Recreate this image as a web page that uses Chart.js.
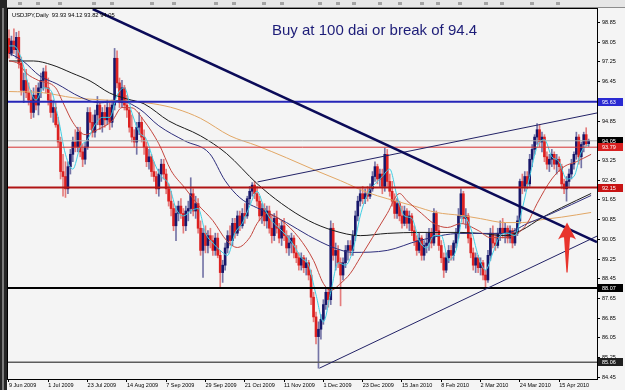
<!DOCTYPE html>
<html>
<head>
<meta charset="utf-8">
<script src="https://cdn.jsdelivr.net/npm/chart.js@4.4.0/dist/chart.umd.min.js"></script>
<style>
  html, body { margin: 0; padding: 0; background: #f4f4f4; }
  canvas { display: block; }
</style>
</head>
<body>
<canvas id="chart" width="625" height="390"></canvas>
<script>
// USDJPY daily candles (bar 0 = 9 Jun 2009)
const opens = [
  98.20, 97.60, 98.10, 97.75, 98.25, 97.20, 96.10, 96.50, 96.00, 95.70,
  95.20, 95.90, 95.50, 96.20, 96.50, 96.85, 96.20, 95.70, 95.20, 95.40,
  94.70, 94.00, 92.80, 92.60, 92.10, 93.00, 93.50, 94.00, 93.80, 94.40,
  93.60, 93.30, 93.80, 95.20, 94.80, 94.40, 95.10, 95.50, 94.70, 95.20,
  94.90, 95.40, 94.80, 95.50, 97.40, 96.40, 95.60, 96.20, 95.50, 95.30,
  94.60, 94.20, 94.00, 94.60, 94.80, 94.20, 93.80, 93.20, 93.40, 92.80,
  92.60, 92.10, 92.70, 93.10, 92.70, 92.10, 91.60, 91.30, 90.60, 91.10,
  91.40, 91.10, 90.60, 91.20, 91.30, 91.90, 91.20, 91.50, 90.50, 89.60,
  90.30, 89.80, 90.20, 90.00, 89.60, 90.10, 89.40, 88.70, 89.00, 89.70,
  90.20, 90.00, 90.70, 90.30, 91.00, 90.60, 91.10, 91.00, 91.70, 92.00,
  92.25, 91.90, 91.60, 91.00, 91.30, 90.80, 91.20, 90.50, 90.20, 90.90,
  90.50, 90.10, 90.60, 90.20, 89.70, 89.90, 90.10, 89.50, 89.30, 89.00,
  89.30, 88.90, 89.10, 88.60, 87.70, 86.90, 86.10, 86.40, 86.80, 87.40,
  87.90, 87.60, 90.50, 89.40, 89.60, 89.10, 88.60, 89.10, 89.60, 89.80,
  89.60, 90.20, 91.00, 91.60, 91.90, 91.70, 91.90, 91.80, 92.10, 92.60,
  93.00, 92.50, 92.70, 92.20, 93.50, 92.40, 92.00, 91.60, 91.10, 91.50,
  91.00, 90.70, 91.20, 90.70, 91.00, 90.40, 90.00, 89.60, 90.10, 89.40,
  89.80, 89.90, 90.30, 89.90, 91.10, 90.40, 89.80, 89.30, 88.80, 89.30,
  89.60, 89.40, 89.90, 90.30, 91.00, 91.90, 90.90, 91.00, 90.10, 89.50,
  89.00, 89.30, 88.90, 89.10, 88.60, 88.40, 89.40, 90.30, 89.90, 89.80,
  90.30, 90.50, 90.30, 90.50, 90.10, 90.40, 89.90, 90.30, 90.80, 92.40,
  92.20, 92.60, 92.30, 93.30, 93.70, 94.20, 94.50, 94.00, 94.20, 93.40,
  93.10, 93.30, 93.50, 93.10, 93.30, 93.00, 92.30, 92.10, 92.40, 92.70,
  93.10, 93.50, 94.20, 93.40, 93.90, 94.30, 93.93
];
const highs = [
  98.55, 98.30, 98.60, 98.45, 98.50, 97.45, 96.80, 96.95, 96.40, 96.10,
  96.20, 96.30, 96.40, 96.80, 97.00, 97.10, 96.60, 96.00, 95.70, 95.60,
  95.00, 94.20, 93.50, 93.20, 93.20, 93.70, 94.20, 94.50, 94.60, 94.60,
  93.90, 94.00, 95.40, 95.40, 95.10, 95.30, 95.85, 95.60, 95.40, 95.50,
  95.70, 95.60, 95.70, 97.80, 97.70, 96.60, 96.50, 96.30, 95.90, 95.40,
  95.10, 94.50, 94.80, 95.20, 95.00, 94.50, 94.00, 93.70, 93.50, 93.20,
  92.80, 92.90, 93.30, 93.30, 92.90, 92.30, 92.00, 91.50, 91.40, 91.60,
  91.70, 91.30, 91.40, 91.60, 92.55, 92.10, 91.80, 91.70, 90.80, 90.50,
  90.60, 90.40, 90.50, 90.20, 90.30, 90.30, 89.60, 89.20, 89.90, 90.40,
  90.60, 90.90, 90.90, 91.20, 91.20, 91.30, 91.50, 91.80, 92.20, 92.35,
  92.40, 92.20, 91.80, 91.50, 91.50, 91.40, 91.40, 91.00, 91.10, 91.20,
  90.70, 90.80, 90.90, 90.40, 90.20, 90.30, 90.20, 89.80, 89.50, 89.50,
  89.40, 89.30, 89.20, 88.80, 87.90, 87.10, 86.70, 87.00, 87.60, 88.10,
  88.10, 90.80, 90.70, 89.90, 89.80, 89.30, 89.30, 89.80, 90.00, 90.00,
  90.40, 91.20, 91.80, 92.10, 92.20, 92.10, 92.20, 92.30, 92.80, 93.20,
  93.10, 92.90, 92.90, 93.75, 93.70, 92.70, 92.40, 91.90, 91.70, 91.60,
  91.40, 91.40, 91.30, 91.20, 91.10, 90.60, 90.20, 90.30, 90.20, 90.00,
  90.30, 90.50, 90.50, 91.30, 91.20, 90.60, 90.00, 89.50, 89.50, 89.80,
  89.80, 90.00, 90.50, 91.30, 92.10, 92.00, 91.30, 91.10, 90.30, 89.70,
  89.50, 89.40, 89.30, 89.20, 88.80, 89.60, 90.50, 90.60, 90.30, 90.50,
  90.80, 90.90, 90.70, 90.60, 90.60, 90.50, 90.50, 91.00, 92.50, 92.70,
  92.80, 92.80, 93.50, 93.90, 94.30, 94.75, 94.70, 94.40, 94.30, 93.60,
  93.50, 93.70, 93.60, 93.50, 93.40, 93.10, 92.50, 92.60, 92.90, 93.30,
  93.60, 94.40, 94.30, 94.00, 94.40, 94.58, 94.12
];
const lows = [
  97.40, 97.50, 97.60, 97.40, 97.00, 95.90, 95.60, 95.80, 95.50, 94.95,
  95.00, 95.30, 95.10, 95.80, 96.10, 96.00, 95.50, 95.00, 94.80, 94.60,
  93.80, 92.50, 91.80, 91.75, 91.90, 92.70, 93.20, 93.60, 93.60, 93.40,
  93.00, 93.10, 93.70, 94.50, 94.20, 94.20, 94.70, 94.50, 94.40, 94.60,
  94.70, 94.50, 94.60, 95.30, 96.20, 95.40, 95.40, 95.30, 95.00, 94.40,
  94.00, 93.80, 93.50, 94.30, 94.00, 93.50, 93.00, 92.90, 92.60, 92.40,
  91.90, 91.80, 92.40, 92.50, 91.90, 91.40, 91.00, 90.40, 90.00, 90.80,
  90.90, 90.30, 90.40, 90.80, 91.10, 91.00, 90.90, 90.30, 89.40, 88.50,
  89.50, 89.50, 89.70, 89.40, 89.40, 89.30, 88.10, 88.30, 88.80, 89.50,
  89.80, 89.80, 90.10, 90.20, 90.40, 90.50, 90.70, 90.90, 91.50, 91.80,
  91.70, 91.40, 90.80, 90.70, 90.60, 90.50, 90.30, 89.90, 90.00, 90.30,
  89.90, 89.80, 90.00, 89.50, 89.40, 89.50, 89.30, 89.10, 88.80, 88.80,
  88.70, 88.60, 88.40, 87.40, 86.70, 85.80, 84.82, 86.00, 86.60, 87.20,
  87.30, 87.40, 89.20, 88.80, 88.90, 87.35, 88.40, 88.90, 89.20, 89.40,
  89.40, 90.00, 90.80, 91.40, 91.50, 91.50, 91.60, 91.70, 92.00, 92.40,
  92.30, 92.20, 91.90, 92.00, 92.20, 91.80, 91.40, 90.90, 90.90, 90.80,
  90.50, 90.60, 90.50, 90.40, 90.20, 89.80, 89.40, 89.50, 89.20, 89.20,
  89.50, 89.60, 89.70, 89.80, 90.20, 89.60, 89.10, 88.50, 88.70, 89.10,
  89.20, 89.20, 89.70, 90.10, 90.90, 90.70, 90.50, 89.90, 89.30, 88.80,
  88.70, 88.70, 88.60, 88.40, 88.10, 88.30, 89.20, 89.70, 89.60, 89.70,
  90.00, 90.10, 89.90, 89.90, 89.90, 89.70, 89.80, 90.20, 90.70, 91.90,
  92.00, 92.10, 92.20, 93.00, 93.50, 93.90, 93.80, 93.60, 93.20, 92.90,
  92.80, 93.00, 92.90, 92.70, 92.80, 92.10, 91.90, 91.60, 92.20, 92.50,
  92.90, 93.30, 93.10, 92.95, 93.60, 93.85, 93.82
];
const closes = [
  97.60, 98.10, 97.75, 98.25, 97.20, 96.10, 96.50, 96.00, 95.70, 95.20,
  95.90, 95.50, 96.20, 96.50, 96.85, 96.20, 95.70, 95.20, 95.40, 94.70,
  94.00, 92.80, 92.60, 92.10, 93.00, 93.50, 94.00, 93.80, 94.40, 93.60,
  93.30, 93.80, 95.20, 94.80, 94.40, 95.10, 95.50, 94.70, 95.20, 94.90,
  95.40, 94.80, 95.50, 97.40, 96.40, 95.60, 96.20, 95.50, 95.30, 94.60,
  94.20, 94.00, 94.60, 94.80, 94.20, 93.80, 93.20, 93.40, 92.80, 92.60,
  92.10, 92.70, 93.10, 92.70, 92.10, 91.60, 91.30, 90.60, 91.10, 91.40,
  91.10, 90.60, 91.20, 91.30, 91.90, 91.20, 91.50, 90.50, 89.60, 90.30,
  89.80, 90.20, 90.00, 89.60, 90.10, 89.40, 88.70, 89.00, 89.70, 90.20,
  90.00, 90.70, 90.30, 91.00, 90.60, 91.10, 91.00, 91.70, 92.00, 92.25,
  91.90, 91.60, 91.00, 91.30, 90.80, 91.20, 90.50, 90.20, 90.90, 90.50,
  90.10, 90.60, 90.20, 89.70, 89.90, 90.10, 89.50, 89.30, 89.00, 89.30,
  88.90, 89.10, 88.60, 87.70, 86.90, 86.10, 86.40, 86.80, 87.40, 87.90,
  87.60, 90.50, 89.40, 89.60, 89.10, 88.60, 89.10, 89.60, 89.80, 89.60,
  90.20, 91.00, 91.60, 91.90, 91.70, 91.90, 91.80, 92.10, 92.60, 93.00,
  92.50, 92.70, 92.20, 93.50, 92.40, 92.00, 91.60, 91.10, 91.50, 91.00,
  90.70, 91.20, 90.70, 91.00, 90.40, 90.00, 89.60, 90.10, 89.40, 89.80,
  89.90, 90.30, 89.90, 91.10, 90.40, 89.80, 89.30, 88.80, 89.30, 89.60,
  89.40, 89.90, 90.30, 91.00, 91.90, 90.90, 91.00, 90.10, 89.50, 89.00,
  89.30, 88.90, 89.10, 88.60, 88.40, 89.40, 90.30, 89.90, 89.80, 90.30,
  90.50, 90.30, 90.50, 90.10, 90.40, 89.90, 90.30, 90.80, 92.40, 92.20,
  92.60, 92.30, 93.30, 93.70, 94.20, 94.50, 94.00, 94.20, 93.40, 93.10,
  93.30, 93.50, 93.10, 93.30, 93.00, 92.30, 92.10, 92.40, 92.70, 93.10,
  93.50, 94.20, 93.40, 93.90, 94.30, 93.93, 94.05
];

// moving averages, sampled by eye as [bar, price]
const maCyan = [
  [0, 97.9], [2, 97.9], [5, 97.4], [8, 96.3], [11, 95.7], [14, 96.2], [17, 96.1], [20, 95.0],
  [23, 93.5], [26, 92.9], [29, 93.8], [32, 94.1], [35, 94.7], [38, 95.0], [41, 95.0], [44, 95.9],
  [47, 96.2], [50, 95.2], [53, 94.4], [56, 94.1], [59, 93.2], [62, 92.6], [65, 92.3], [68, 91.3],
  [71, 91.0], [74, 91.2], [77, 91.3], [80, 90.3], [83, 89.9], [86, 89.6], [89, 89.4], [92, 90.3],
  [95, 90.7], [98, 91.4], [101, 92.0], [104, 91.3], [107, 90.8], [110, 90.5], [113, 90.2], [116, 89.8],
  [119, 89.3], [122, 89.0], [125, 87.8], [128, 86.7], [131, 87.9], [134, 89.1], [137, 89.0], [140, 89.6],
  [143, 91.0], [146, 91.9], [149, 92.3], [152, 92.6], [155, 92.9], [158, 91.8], [161, 91.0], [164, 90.9],
  [167, 90.0], [170, 89.7], [173, 90.2], [176, 90.2], [179, 89.2], [182, 89.6], [185, 91.0], [188, 90.5],
  [191, 89.4], [194, 88.8], [197, 89.5], [200, 90.2], [203, 90.3], [206, 90.2], [209, 91.3], [212, 92.6],
  [215, 93.8], [218, 94.1], [221, 93.4], [224, 93.2], [227, 92.5], [230, 92.6], [233, 93.6], [236, 93.9]
];
const maRed = [
  [0, 97.3], [4, 97.17], [7, 96.8], [12, 96.5], [19, 96.2], [22, 95.6], [26, 94.8], [31, 94.3],
  [36, 94.5], [42, 94.86], [46, 95.4], [50, 95.39], [55, 94.86], [61, 93.93], [66, 92.84], [71.5, 92.15],
  [77, 91.45], [83, 90.81], [88.6, 90.0], [93, 89.72], [98, 90.12], [101, 90.69], [105, 91.1], [111, 90.81],
  [118, 90.12], [124, 89.19], [128, 88.26], [131, 87.98], [135, 88.26], [139, 88.67], [143, 89.31], [148, 90.12],
  [154, 91.1], [159, 91.91], [162, 91.62], [168, 91.1], [173, 90.69], [178.5, 90.53], [184, 90.69], [191, 90.41],
  [196, 90.12], [202, 90.12], [207, 90.29], [211, 90.7], [215, 91.5], [221, 92.5], [226, 93.0], [231, 93.2], [237, 93.5]
];
const maNavy = [
  [0, 97.61], [5.7, 97.29], [12.6, 96.68], [19.5, 96.36], [29, 95.83], [37, 95.59], [45, 95.67], [53, 95.35],
  [61, 94.66], [71.5, 94.05], [81.7, 93.53], [88, 92.43], [94, 91.74], [105, 91.14], [113, 90.73], [122, 90.2],
  [132, 89.72], [140, 89.52], [154, 89.6], [167, 90.0], [184, 90.29], [202, 90.29], [211, 90.69], [221, 91.1], [237, 91.83]
];
const maBlack = [
  [0, 97.29], [10, 97.29], [17.5, 97.13], [25.6, 96.8], [33, 96.48], [41, 95.99], [48, 95.75], [55, 95.55],
  [65, 94.86], [78, 94.25], [88.6, 93.53], [101, 92.31], [111, 91.5], [122, 90.81], [132, 90.41], [143, 90.2],
  [154, 90.29], [167, 90.33], [184, 90.33], [192, 90.29], [202, 90.2], [208.5, 90.41], [217, 90.93], [225, 91.34], [237, 91.91]
];
const maOrange = [
  [0, 96.05], [14, 96.0], [26, 95.8], [40, 95.7], [50, 95.65], [59, 95.55], [68, 95.35], [78, 94.96],
  [90, 94.25], [101, 93.85], [113, 93.36], [125, 92.84], [135, 92.43], [146, 91.95], [154, 91.7], [165, 91.4],
  [174, 91.14], [184, 91.02], [192, 90.89], [202, 90.73], [209, 90.73], [217, 90.85], [225, 90.95], [237, 91.14]
];

// drawn trend lines, [bar, price] end points
const downTrend = [[34.1, 99.40], [239.4, 89.94]];
const channelTop = [[101.2, 92.38], [239.4, 95.18]];
const channelBottom = [[126.4, 84.82], [239.4, 90.18]];

// horizontal levels
const levels = [95.63, 94.05, 93.79, 92.15, 88.07, 85.06];
const levelLineColors = ['#2626b8', '#a9a9a9', '#d63030', '#b01414', '#000000', '#5c5c5c'];
const levelLineWidths = [2, 1, 1, 2, 2, 1.5];
const levelBoxColors = ['#2a2ad2', '#000000', '#d82020', '#c81414', '#000000', '#202020'];

const yTicks = [98.85, 98.05, 97.25, 96.45, 95.65, 94.85, 94.05, 93.25, 92.45, 91.65,
  90.85, 90.05, 89.25, 88.45, 87.65, 86.85, 86.05, 85.25, 84.45];
const dateTickIdx = [0, 16, 32, 48, 64, 80, 96, 112, 128, 144, 160, 176, 192, 208, 224];
const dateLabels = ['9 Jun 2009', '1 Jul 2009', '23 Jul 2009', '14 Aug 2009', '7 Sep 2009',
  '29 Sep 2009', '21 Oct 2009', '11 Nov 2009', '1 Dec 2009', '23 Dec 2009', '15 Jan 2010',
  '8 Feb 2010', '2 Mar 2010', '24 Mar 2010', '15 Apr 2010'];

const headerText = 'USDJPY,Daily  93.93 94.12 93.82 94.05';
const noteText = 'Buy at 100 dai or break of 94.4';
const arrowMark = { bar: 227.2, tip: 90.73, head: 90.12, tail: 88.70 };

const X_MIN = -0.4, X_MAX = 239.4;
const SMALL_FONT = '5.5px "Liberation Sans", Arial, sans-serif';

const bars = closes.map((_, i) => i);
const up = bars.map(i => closes[i] >= opens[i]);

function lineSet(points, color, width) {
  return {
    type: 'line',
    data: points.map(([x, y]) => ({ x, y })),
    borderColor: color,
    borderWidth: width,
    pointRadius: 0,
    fill: false,
    cubicInterpolationMode: 'monotone'
  };
}

const levelSets = levels.map((v, i) => lineSet([[X_MIN, v], [X_MAX, v]], levelLineColors[i], levelLineWidths[i]));

const datasets = [
  lineSet(downTrend, '#0b0b58', 2.5),
  lineSet(channelTop, '#222266', 1),
  lineSet(channelBottom, '#222266', 1),
  ...levelSets,
  lineSet(maCyan, '#3fcfe4', 1),
  lineSet(maRed, '#c4463e', 1),
  lineSet(maNavy, '#2e2e7c', 1),
  lineSet(maBlack, '#1c1c1c', 1),
  lineSet(maOrange, '#e2a765', 1),
  {
    type: 'bar',
    data: bars.map(i => ({ x: i, y: [opens[i], closes[i]] })),
    backgroundColor: bars.map(i => up[i] ? '#17176a' : '#dc2020'),
    barThickness: 2,
    minBarLength: 1,
    grouped: false
  },
  {
    type: 'bar',
    data: bars.map(i => ({ x: i, y: [lows[i], highs[i]] })),
    backgroundColor: bars.map(i => up[i] ? '#7474a6' : '#e47c7c'),
    barThickness: 1,
    grouped: false
  }
];

const backdrop = {
  id: 'backdrop',
  beforeDraw(chart) {
    const { ctx, width, height } = chart;
    ctx.save();
    ctx.fillStyle = '#f4f4f4';
    ctx.fillRect(0, 0, width, height);
    // toolbar remnant at the top
    ctx.fillStyle = '#e6e6e6';
    ctx.fillRect(0, 0, width, 8);
    ctx.fillStyle = '#8c8c8c';
    ctx.fillRect(0, 7, width, 1);
    ctx.fillStyle = '#a4a4a4';
    [18, 36, 58, 92, 110, 150, 172, 214, 232, 262, 280, 318, 336, 352, 378, 398, 420, 436, 458, 484, 500, 530, 556].forEach(x => {
      ctx.fillRect(x, 2, 4, 3);
    });
    // dark window edge on the left
    ctx.fillStyle = '#262626';
    ctx.fillRect(0, 0, 7, height);
    ctx.fillStyle = '#7c7c7c';
    ctx.fillRect(2, 8, 2, height - 8);
    ctx.restore();
  }
};

const overlay = {
  id: 'overlay',
  afterDraw(chart) {
    const { ctx, chartArea: a, scales: { x, y } } = chart;
    ctx.save();

    // frame
    ctx.strokeStyle = '#000';
    ctx.lineWidth = 1;
    ctx.strokeRect(a.left - 0.5, a.top - 0.5, a.right - a.left + 1, a.bottom - a.top + 1);

    // symbol header
    ctx.fillStyle = '#000';
    ctx.font = '5.8px "Liberation Sans", Arial, sans-serif';
    ctx.textBaseline = 'alphabetic';
    ctx.textAlign = 'left';
    ctx.fillText(headerText, 12, 17);

    // note text
    ctx.fillStyle = '#1d1d78';
    ctx.font = '15px "Liberation Sans", Arial, sans-serif';
    ctx.fillText(noteText, 272, 35);

    // price boxes on the right axis
    ctx.font = SMALL_FONT;
    ctx.textBaseline = 'middle';
    levels.forEach((v, i) => {
      const py = Math.round(y.getPixelForValue(v));
      ctx.fillStyle = levelBoxColors[i];
      ctx.fillRect(a.right + 1, py - 4, 25, 8);
      ctx.fillStyle = '#fff';
      ctx.fillText(v.toFixed(2), a.right + 5, py + 0.5);
    });

    // red arrow
    const ax = x.getPixelForValue(arrowMark.bar);
    const tipY = y.getPixelForValue(arrowMark.tip);
    const headY = y.getPixelForValue(arrowMark.head);
    const tailY = y.getPixelForValue(arrowMark.tail);
    ctx.fillStyle = '#e8342c';
    ctx.beginPath();
    ctx.moveTo(ax, tipY);
    ctx.lineTo(ax + 9, headY + 2);
    ctx.quadraticCurveTo(ax + 4, headY - 1, ax + 3, headY);
    ctx.lineTo(ax + 0.6, tailY);
    ctx.lineTo(ax - 0.6, tailY);
    ctx.lineTo(ax - 3, headY);
    ctx.quadraticCurveTo(ax - 4, headY - 1, ax - 9, headY + 2);
    ctx.closePath();
    ctx.fill();

    ctx.restore();
  }
};

new Chart(document.getElementById('chart'), {
  type: 'bar',
  data: { datasets },
  options: {
    responsive: false,
    animation: false,
    devicePixelRatio: 1,
    events: [],
    layout: { padding: { left: 8, top: 9, right: 0, bottom: 0 } },
    plugins: { legend: { display: false }, tooltip: { enabled: false } },
    scales: {
      x: {
        type: 'linear',
        min: X_MIN,
        max: X_MAX,
        offset: false,
        afterBuildTicks: s => { s.ticks = dateTickIdx.map(v => ({ value: v })); },
        afterFit: s => { s.height = 11; },
        border: { display: false },
        grid: { drawOnChartArea: false, offset: false, tickLength: 3, tickColor: '#000' },
        ticks: {
          autoSkip: false, maxRotation: 0, minRotation: 0, align: 'start', padding: 0,
          color: '#000', font: { family: '"Liberation Sans", Arial, sans-serif', size: 5.5 },
          callback: v => dateLabels[dateTickIdx.indexOf(v)]
        }
      },
      y: {
        position: 'right',
        min: 84.38,
        max: 99.40,
        afterBuildTicks: s => { s.ticks = yTicks.map(v => ({ value: v })); },
        afterFit: s => { s.width = 28; },
        border: { display: false },
        grid: { drawOnChartArea: false, tickLength: 3, tickColor: '#000' },
        ticks: {
          autoSkip: false, padding: 2, color: '#000',
          font: { family: '"Liberation Sans", Arial, sans-serif', size: 5.5 },
          callback: v => v.toFixed(2)
        }
      }
    }
  },
  plugins: [backdrop, overlay]
});
</script>
</body>
</html>
